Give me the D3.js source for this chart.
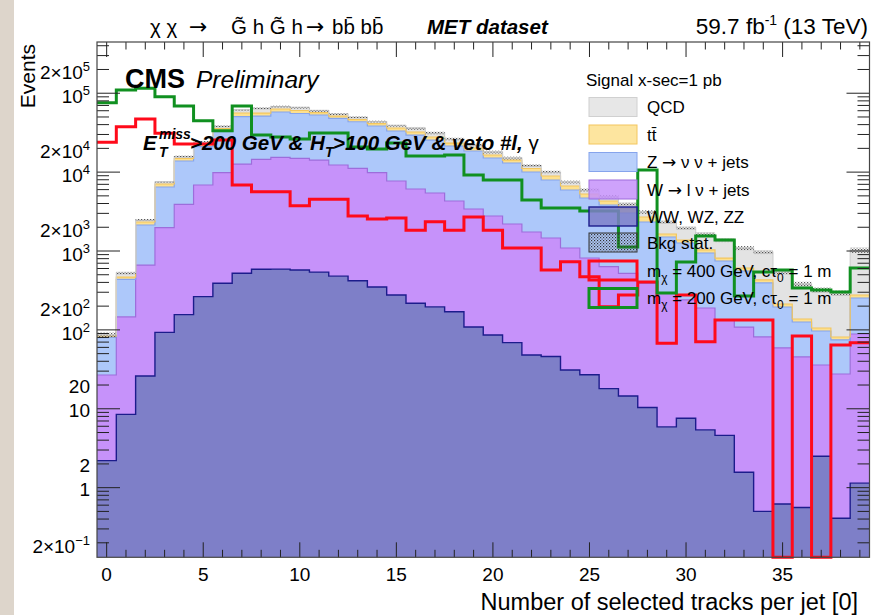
<!DOCTYPE html>
<html>
<head>
<meta charset="utf-8">
<script src="https://cdn.jsdelivr.net/npm/d3@7"></script>
<style>
  body { margin: 0; background: #fff; }
  svg { display: block; font-family: "Liberation Sans", Arial, Helvetica, sans-serif; }
  .arrow { font-family: "DejaVu Sans", sans-serif; }
</style>
</head>
<body>
<svg id="chart" width="871" height="615"></svg>
<script>
// ---- data (events per bin, bins 0..39) ----
const bins = d3.range(40);

const ww = [2.2, 8.5, 26, 93, 156, 264, 390, 522, 586, 590, 575, 540, 480, 420, 350, 277, 218, 196, 170, 109,
  86, 69, 48, 46, 31, 27, 18, 14.5, 10.4, 5.9, 7.6, 5.4, 4.6, 1.57, 0.50, 0.62, 0.56, 2.5, 0.41, 1.14];
const wjets = [24.6, 138, 638, 1881, 3751, 6600, 9436, 12140, 13940, 14810, 14385, 13690, 11820, 10750, 9476, 7436, 5889, 5238, 4132, 3298,
  2691, 2130, 1693, 1415, 1060, 788, 614, 507, 379, 288, 232, 184, 129, 107, 81, 58.4, 44.8, 33.4, 27.2, 87.6];
const zjets = [54.5, 291, 1471, 4500, 9916, 14236, 22684, 37705, 36870, 42380, 40340, 38700, 35760, 32350, 28574, 25467, 23413, 20076, 17118, 15103,
  12313, 10841, 8289, 6478, 4841, 3880, 3196, 2509, 1941, 1210, 1024, 754, 613, 449, 312, 136, 80.6, 60.9, 46.9, 165];
const ttbar = [2.4, 30, 196, 593, 1047, 1600, 3180, 5740, 4710, 5280, 5070, 4000, 3340, 2890, 2890, 3040, 2710, 2340, 1950, 1690,
  1380, 1190, 1080, 986, 733, 583, 474, 425, 366, 138, 115, 87, 68, 51, 36, 17.8, 11.5, 8.9, 6.8, 23];
const qcd = [2.5, 58, 140, 424, 890, 1370, 2370, 5140, 8260, 4380, 5510, 3090, 3100, 3090, 2230, 2740, 3680, 3450, 2900, 1840,
  1500, 860, 1010, 1105, 826, 654, 575, 485, 424, 689, 578, 612, 563, 482, 542, 329, 244, 215, 212, 753];
// relative stat. uncertainty of the total background
const bkgRelErr = [0.08, 0.04, 0.03, 0.03, 0.03, 0.03, 0.03, 0.03, 0.03, 0.03, 0.03, 0.03, 0.03, 0.03, 0.03, 0.03, 0.04, 0.04, 0.04, 0.04,
  0.04, 0.04, 0.04, 0.04, 0.04, 0.05, 0.05, 0.05, 0.05, 0.05, 0.05, 0.06, 0.06, 0.06, 0.06, 0.07, 0.07, 0.08, 0.08, 0.08];

const sig400 = [23860, 37620, 47100, 31010, 22700, 22700, 25510, 6864, 5643, 5643, 3751, 4521, 4521, 2777, 2544, 2619, 1837, 2351, 1837, 2697,
  1837, 1091, 1091, 574, 731, 472, 197, 277, 405, 67.6, 277, 70.9, 133.5, 133.5, 133.5, 0, 83.7, 0, 64.4, 68.8];
const sig200 = [75780, 109800, 115400, 90300, 68800, 44810, 33470, 68800, 29530, 27850, 26270, 31300, 31300, 20800, 19620, 23370, 15990, 15990, 16470, 9186,
  7939, 7939, 4430, 3508, 3508, 3213, 3213, 1124, 10630, 293.5, 725, 1549, 1378, 269, 542, 574, 340, 320, 302, 608];

const xTickLabels = [0, 5, 10, 15, 20, 25, 30, 35];
const yTickValues = [2e5, 1e5, 2e4, 1e4, 2e3, 1e3, 200, 100, 20, 10, 2, 1, 0.2];
const yTickText = ['2×10^5', '10^5', '2×10^4', '10^4', '2×10^3', '10^3', '2×10^2', '10^2', '20', '10', '2', '1', '2×10^\u22121'];

const processes = ['ww', 'w', 'z', 'tt', 'qcd'];
const fillColor = { qcd: '#e3e3e3', tt: '#fde08e', z: '#adc8fa', w: '#c692fa', ww: '#7e7fc8' };
const lineColor = { qcd: '#d0d0d0', tt: '#f3c65e', z: '#86a4ec', w: '#9d6ddb', ww: '#1c1c8c' };

// ---- layout ----
const frame = { left: 97, right: 869.5, top: 42, bottom: 557.3 };
const yMin = 0.131;

const x = d3.scaleLinear().domain([-0.5, 39.5]).range([frame.left, frame.right]);
const y = d3.scaleLog().domain([yMin, 4.46e5]).range([frame.bottom, frame.top]);
const yc = v => y(Math.max(v, yMin));

const svg = d3.select('#chart');

// textured slide edge on the left
svg.append('rect').attr('x', 0).attr('y', 0).attr('width', 14).attr('height', 615).attr('fill', '#ddd5cb');

const defs = svg.append('defs');
defs.append('clipPath').attr('id', 'plotClip')
  .append('rect')
    .attr('x', frame.left).attr('y', frame.top)
    .attr('width', frame.right - frame.left).attr('height', frame.bottom - frame.top);
defs.append('clipPath').attr('id', 'lineClip')
  .append('rect')
    .attr('x', frame.left).attr('y', frame.top)
    .attr('width', frame.right - frame.left).attr('height', frame.bottom - frame.top + 2);
const pat = defs.append('pattern').attr('id', 'dots')
  .attr('patternUnits', 'userSpaceOnUse').attr('width', 3).attr('height', 3);
pat.append('rect').attr('x', 0).attr('y', 0).attr('width', 1.2).attr('height', 1.2).attr('fill', '#333');
pat.append('rect').attr('x', 1.5).attr('y', 1.5).attr('width', 1.2).attr('height', 1.2).attr('fill', '#555');

// ---- stacked background ----
const rows = bins.map(i => ({ ww: ww[i], w: wjets[i], z: zjets[i], tt: ttbar[i], qcd: qcd[i] }));
const stack = d3.stack().keys(processes)(rows);

const stepPts = vals => bins.flatMap(i => [[i - 0.5, vals[i]], [i + 0.5, vals[i]]]);

const area = d3.area()
  .x(d => x(d[0]))
  .y0(d => yc(d[1][0]))
  .y1(d => yc(d[1][1]));
const line = d3.line()
  .x(d => x(d[0]))
  .y(d => yc(d[1]));

const plot = svg.append('g').attr('clip-path', 'url(#plotClip)');

stack.forEach(layer => {
  const pts = stepPts(layer.map(d => [d[0], d[1]]));
  plot.append('path')
    .attr('d', area(pts))
    .attr('fill', fillColor[layer.key])
    .attr('stroke', 'none');
});
stack.forEach(layer => {
  const pts = stepPts(layer.map(d => d[1]));
  plot.append('path')
    .attr('d', line(pts))
    .attr('fill', 'none')
    .attr('stroke', lineColor[layer.key])
    .attr('stroke-width', layer.key === 'ww' ? 1.4 : 1.2);
});

// background stat. uncertainty band
const total = stack[stack.length - 1].map(d => d[1]);
plot.selectAll('rect.bkgstat').data(bins)
  .enter().append('rect')
    .attr('class', 'bkgstat')
    .attr('x', i => x(i - 0.5))
    .attr('width', i => x(i + 0.5) - x(i - 0.5))
    .attr('y', i => yc(total[i] * (1 + bkgRelErr[i])))
    .attr('height', i => yc(total[i] * (1 - bkgRelErr[i])) - yc(total[i] * (1 + bkgRelErr[i])))
    .attr('fill', 'url(#dots)')
    .attr('opacity', 0.8);

// ---- signals ----
const sigG = svg.append('g').attr('clip-path', 'url(#lineClip)');
sigG.append('path')
  .attr('d', line(stepPts(sig400)))
  .attr('fill', 'none').attr('stroke', '#ff0a1a').attr('stroke-width', 3);
sigG.append('path')
  .attr('d', line(stepPts(sig200)))
  .attr('fill', 'none').attr('stroke', '#109020').attr('stroke-width', 3);

// ---- frame and ticks ----
const axes = svg.append('g').attr('stroke', '#222').attr('stroke-width', 1);
bins.forEach(i => {
  const len = i % 5 === 0 ? 15 : 7.5;
  axes.append('line').attr('x1', x(i)).attr('x2', x(i)).attr('y1', frame.bottom).attr('y2', frame.bottom - len);
  axes.append('line').attr('x1', x(i)).attr('x2', x(i)).attr('y1', frame.top).attr('y2', frame.top + len);
});
for (let n = -1; n <= 5; n++) {
  for (let k = 1; k <= 9; k++) {
    const v = k * Math.pow(10, n);
    if (v < yMin || v > 4.46e5) continue;
    const len = k === 1 ? 23 : 12;
    axes.append('line').attr('x1', frame.left).attr('x2', frame.left + len).attr('y1', y(v)).attr('y2', y(v));
    axes.append('line').attr('x1', frame.right).attr('x2', frame.right - len).attr('y1', y(v)).attr('y2', y(v));
  }
}
svg.append('rect')
  .attr('x', frame.left).attr('y', frame.top)
  .attr('width', frame.right - frame.left).attr('height', frame.bottom - frame.top)
  .attr('fill', 'none').attr('stroke', '#444').attr('stroke-width', 1.2);

// tick labels
svg.append('g').selectAll('text').data(xTickLabels)
  .enter().append('text')
    .attr('x', d => x(d))
    .attr('y', 581)
    .attr('text-anchor', 'middle')
    .attr('font-size', 19)
    .text(d => d);

yTickValues.forEach((v, i) => {
  const [base, exp] = yTickText[i].split('^');
  const t = svg.append('text')
    .attr('x', 90)
    .attr('y', y(v) + (exp ? 10 : 8))
    .attr('text-anchor', 'end')
    .attr('font-size', 19);
  t.append('tspan').text(base);
  if (exp) t.append('tspan').attr('dy', -8).attr('font-size', 13).text(exp);
});

// axis titles
svg.append('text')
  .attr('transform', 'translate(35,44) rotate(-90)')
  .attr('text-anchor', 'end')
  .attr('font-size', 21)
  .text('Events');
svg.append('text')
  .attr('x', 858).attr('y', 610)
  .attr('text-anchor', 'end')
  .attr('font-size', 23.5)
  .text('Number of selected tracks per jet [0]');

// ---- titles ----
const title = svg.append('text').attr('y', 34).attr('font-size', 20.5);
title.append('tspan').attr('x', 150).text('\u03c7 \u03c7');
title.append('tspan').attr('x', 189).attr('class', 'arrow').attr('font-size', 22).text('\u2192');
title.append('tspan').attr('x', 231).text('G\u0303 h G\u0303 h');
title.append('tspan').attr('x', 306).attr('class', 'arrow').attr('font-size', 22).text('\u2192');
title.append('tspan').attr('x', 332).text('bb\u0304 bb\u0304');
title.append('tspan').attr('x', 427).attr('font-weight', 'bold').attr('font-style', 'italic').text('MET dataset');

const lumi = svg.append('text').attr('x', 868).attr('y', 34).attr('text-anchor', 'end').attr('font-size', 22.5);
lumi.append('tspan').text('59.7 fb');
lumi.append('tspan').attr('dy', -9).attr('font-size', 14).text('-1');
lumi.append('tspan').attr('dy', 9).text('  (13 TeV)');

svg.append('text').attr('x', 125).attr('y', 88)
  .attr('font-size', 27).attr('font-weight', 'bold').text('CMS');
svg.append('text').attr('x', 196).attr('y', 88)
  .attr('font-size', 24.5).attr('font-style', 'italic').text('Preliminary');

const cut = svg.append('text').attr('y', 150).attr('font-size', 20.5)
  .attr('font-weight', 'bold').attr('font-style', 'italic');
cut.append('tspan').attr('x', 143).text('E');
cut.append('tspan').attr('x', 159).attr('dy', -11).attr('font-size', 14).text('miss');
cut.append('tspan').attr('x', 159).attr('dy', 18).attr('font-size', 14).text('T');
cut.append('tspan').attr('x', 190).attr('dy', -7).text('>200 GeV &');
cut.append('tspan').attr('x', 310).text('H');
cut.append('tspan').attr('x', 325).attr('dy', 7).attr('font-size', 14).text('T');
cut.append('tspan').attr('x', 333).attr('dy', -7).text('>100 GeV & veto #l, ');
cut.append('tspan').attr('font-weight', 'normal').attr('font-style', 'normal').text('\u03b3');

// ---- legend ----
const legend = svg.append('g').attr('font-size', 17);
legend.append('text').attr('x', 586).attr('y', 86).text('Signal x-sec=1 pb');

const legendKeys = ['qcd', 'tt', 'z', 'w', 'ww', 'stat', 'sig400', 'sig200'];
const legendRowY = [107, 134.5, 162, 189.5, 216.5, 242.5, 270.5, 298];
legendKeys.forEach((key, i) => {
  const cy = legendRowY[i];
  const box = legend.append('rect')
    .attr('x', 589).attr('y', cy - 9.5).attr('width', 48).attr('height', 19);
  if (fillColor[key]) {
    box.attr('fill', fillColor[key]).attr('fill-opacity', 0.85)
      .attr('stroke', lineColor[key]).attr('stroke-width', key === 'ww' ? 1.4 : 1);
  } else if (key === 'stat') {
    box.attr('fill', 'url(#dots)').attr('stroke', '#333').attr('stroke-width', 1);
  } else {
    box.attr('fill', 'none').attr('stroke-width', 3)
      .attr('stroke', key === 'sig400' ? '#ff0a1a' : '#109020');
  }
  const t = legend.append('text').attr('x', 647).attr('y', cy + 6);
  if (key === 'qcd') t.text('QCD');
  if (key === 'tt') t.text('tt\u0304');
  if (key === 'z' || key === 'w') {
    t.append('tspan').text(key === 'z' ? 'Z ' : 'W ');
    t.append('tspan').attr('class', 'arrow').text('\u2192');
    t.append('tspan').text(key === 'z' ? ' \u03bd \u03bd + jets' : ' l \u03bd + jets');
  }
  if (key === 'ww') t.text('WW, WZ, ZZ');
  if (key === 'stat') t.text('Bkg stat.');
  if (key === 'sig400' || key === 'sig200') {
    t.append('tspan').text('m');
    t.append('tspan').attr('dy', 5).attr('font-size', 12).text('\u03c7');
    t.append('tspan').attr('dy', -5).text(key === 'sig400' ? ' = 400 GeV, c\u03c4' : ' = 200 GeV, c\u03c4');
    t.append('tspan').attr('dy', 5).attr('font-size', 12).text('0');
    t.append('tspan').attr('dy', -5).text(' = 1 m');
  }
});
</script>
</body>
</html>
